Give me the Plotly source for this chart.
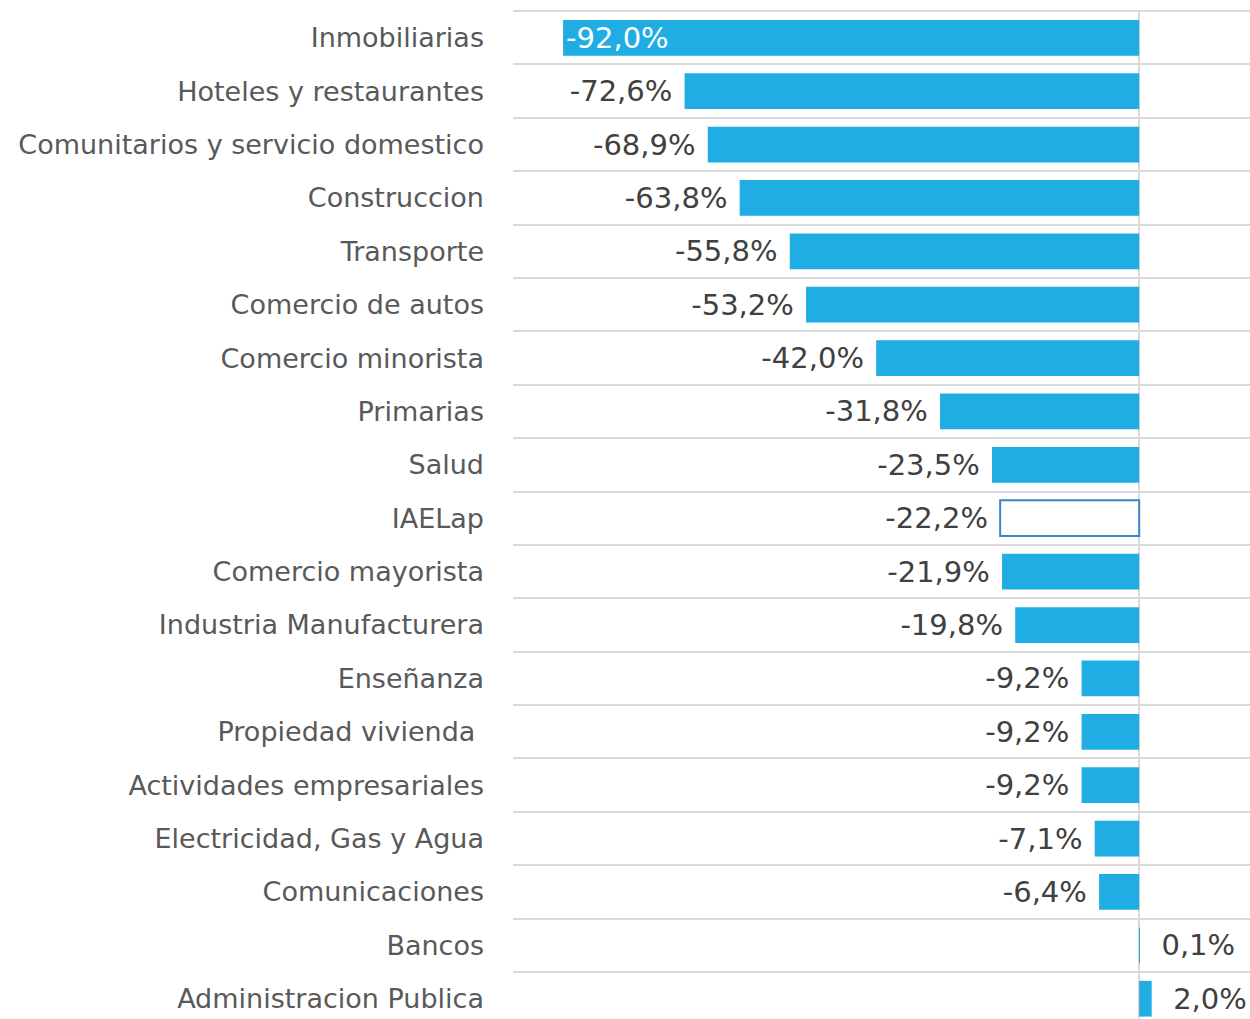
import plotly.graph_objects as go

categories = [
    "Inmobiliarias", "Hoteles y restaurantes", "Comunitarios y servicio domestico",
    "Construccion", "Transporte", "Comercio de autos", "Comercio minorista",
    "Primarias", "Salud", "IAELap", "Comercio mayorista", "Industria Manufacturera",
    "Enseñanza", "Propiedad vivienda ", "Actividades empresariales",
    "Electricidad, Gas y Agua", "Comunicaciones", "Bancos", "Administracion Publica",
]
values = [-92.0, -72.6, -68.9, -63.8, -55.8, -53.2, -42.0, -31.8, -23.5, -22.2,
          -21.9, -19.8, -9.2, -9.2, -9.2, -7.1, -6.4, 0.1, 2.0]
highlight = "IAELap"
inside_label = "Inmobiliarias"

BLUE = "#1FADE4"
NB = "\u00a0"
FONT = "DejaVu Sans"

def fmt(v):
    return f"{v:.1f}%".replace(".", ",")

texts, positions, tcolors, colors, lcolors, lwidths = [], [], [], [], [], []
for c, v in zip(categories, values):
    if c == inside_label:
        texts.append(fmt(v))
        positions.append("inside")
        tcolors.append("#ffffff")
    else:
        s = fmt(v)
        texts.append(s + NB if v < 0 else NB * 2 + s)
        positions.append("outside")
        tcolors.append("#404040")
    if c == highlight:
        colors.append("#ffffff"); lcolors.append("#3A86C8"); lwidths.append(2)
    else:
        colors.append(BLUE); lcolors.append(BLUE); lwidths.append(0)

fig = go.Figure(go.Bar(
    y=categories, x=values, orientation="h",
    marker=dict(color=colors, line=dict(color=lcolors, width=lwidths)),
    text=texts, textposition=positions, insidetextanchor="end",
    textfont=dict(color=tcolors, size=29, family=FONT),
    constraintext="none", cliponaxis=False, width=0.67,
    hoverinfo="skip",
))

fig.update_layout(
    width=1250, height=1019,
    margin=dict(l=513, r=0, t=10, b=0),
    paper_bgcolor="white", plot_bgcolor="white",
    showlegend=False,
    font=dict(family=FONT, color="#595959"),
    xaxis=dict(range=[-100, 17.7], showticklabels=False, showgrid=False,
               zeroline=True, zerolinecolor="#D9D9D9", zerolinewidth=2,
               fixedrange=True),
    yaxis=dict(type="category", range=[18.38, -0.52], tickson="boundaries",
               showgrid=True, gridcolor="#D9D9D9", gridwidth=2,
               ticks="", tickfont=dict(size=27, color="#595959", family=FONT),
               automargin=False, ticklabelstandoff=28, zeroline=False),
)

fig.write_html("out.html", config={"displayModeBar": False},
               post_script="document.body.style.margin='0';document.body.style.overflow='hidden';")
